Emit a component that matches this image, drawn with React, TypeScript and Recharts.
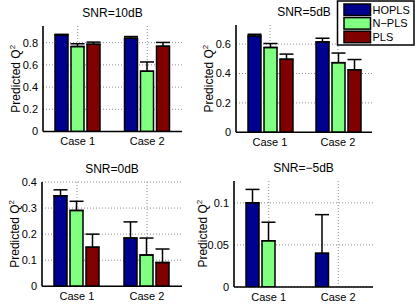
import React from 'react'
import { Bar, BarChart, CartesianGrid, ErrorBar, XAxis, YAxis } from 'recharts'

const categories = ['Case 1', 'Case 2']
const seriesNames = ['HOPLS', 'N-PLS', 'PLS']
const seriesColors = ['#00008F', '#80FF80', '#800000']

// SNR = 10dB
const snr10Hopls = [0.87, 0.84]
const snr10HoplsErr = [0.005, 0.015]
const snr10Npls = [0.765, 0.543]
const snr10NplsErr = [0.025, 0.083]
const snr10Pls = [0.785, 0.767]
const snr10PlsErr = [0.02, 0.035]

// SNR = 5dB
const snr5Hopls = [0.655, 0.615]
const snr5HoplsErr = [0.012, 0.025]
const snr5Npls = [0.577, 0.474]
const snr5NplsErr = [0.027, 0.065]
const snr5Pls = [0.497, 0.425]
const snr5PlsErr = [0.035, 0.07]

// SNR = 0dB
const snr0Hopls = [0.347, 0.185]
const snr0HoplsErr = [0.023, 0.062]
const snr0Npls = [0.291, 0.12]
const snr0NplsErr = [0.035, 0.065]
const snr0Pls = [0.15, 0.091]
const snr0PlsErr = [0.05, 0.052]

// SNR = -5dB
const snrM5Hopls = [0.1, 0.04]
const snrM5HoplsErr = [0.016, 0.046]
const snrM5Npls = [0.055, 0]
const snrM5NplsErr = [0.022, 0.05]
const snrM5Pls = [0, 0]
const snrM5PlsErr = [0, 0]

const ticks10 = [0, 0.2, 0.4, 0.6, 0.8]
const ticks5 = [0, 0.2, 0.4, 0.6]
const ticks0 = [0, 0.1, 0.2, 0.3, 0.4]
const ticksM5 = [0, 0.05, 0.1]

const FONT = '"Liberation Sans", Arial, Helvetica, sans-serif'

interface Box {
  x: number
  y: number
  w: number
  h: number
}

function buildRows(values: number[][], errors: number[][]) {
  return categories.map((name, i) => ({
    name,
    hopls: values[0][i],
    npls: values[1][i],
    pls: values[2][i],
    // one-sided (upper) error bars, like the lower half hidden behind the bar
    hoplsErr: [0, errors[0][i]],
    nplsErr: [0, errors[1][i]],
    plsErr: [0, errors[2][i]]
  }))
}

const panels = [
  {
    title: 'SNR=10dB',
    rows: buildRows([snr10Hopls, snr10Npls, snr10Pls], [snr10HoplsErr, snr10NplsErr, snr10PlsErr]),
    ticks: ticks10,
    top: 0.95,
    box: { x: 43, y: 26, w: 139, h: 105.5 },
    labelX: 19.5
  },
  {
    title: 'SNR=5dB',
    rows: buildRows([snr5Hopls, snr5Npls, snr5Pls], [snr5HoplsErr, snr5NplsErr, snr5PlsErr]),
    ticks: ticks5,
    top: 0.73,
    box: { x: 236, y: 25, w: 136, h: 107.3 },
    labelX: 212.5
  },
  {
    title: 'SNR=0dB',
    rows: buildRows([snr0Hopls, snr0Npls, snr0Pls], [snr0HoplsErr, snr0NplsErr, snr0PlsErr]),
    ticks: ticks0,
    top: 0.4,
    box: { x: 42, y: 181.7, w: 140, h: 104.3 },
    labelX: 18.5
  },
  {
    title: 'SNR=\u22125dB',
    rows: buildRows([snrM5Hopls, snrM5Npls, snrM5Pls], [snrM5HoplsErr, snrM5NplsErr, snrM5PlsErr]),
    ticks: ticksM5,
    top: 0.126,
    box: { x: 234, y: 180.7, w: 139, h: 106 },
    labelX: 207
  }
]

const PAD_L = 45
const PAD_T = 28
const PAD_R = 10
const PAD_B = 22

function Panel({ rows, ticks, top, box }: { rows: any[]; ticks: number[]; top: number; box: Box }) {
  const keys = ['hopls', 'npls', 'pls']
  return (
    <div style={{ position: 'absolute', left: box.x - PAD_L, top: box.y - PAD_T }}>
      <BarChart
        width={box.w + PAD_L + PAD_R}
        height={box.h + PAD_T + PAD_B}
        data={rows}
        margin={{ top: PAD_T, right: PAD_R, bottom: 0, left: 0 }}
        barCategoryGap={12}
        barGap={3}
      >
        <CartesianGrid stroke="#8c8c8c" strokeDasharray="1 2" strokeWidth={1} syncWithTicks />
        <XAxis
          dataKey="name"
          height={PAD_B}
          tickLine={false}
          tickSize={3}
          tickMargin={3}
          axisLine={{ stroke: '#000', strokeWidth: 1.6 }}
          tick={{ fill: '#000', fontSize: 11, fontFamily: FONT }}
        />
        <YAxis
          width={PAD_L}
          domain={[0, top]}
          ticks={ticks}
          allowDataOverflow
          interval={0}
          tickLine={false}
          tickSize={3}
          tickMargin={2}
          axisLine={{ stroke: '#000', strokeWidth: 1.6 }}
          tickFormatter={(v: number) => String(v)}
          tick={{ fill: '#000', fontSize: 11, fontFamily: FONT }}
        />
        {keys.map((key, i) => (
          <Bar
            key={key}
            dataKey={key}
            fill={seriesColors[i]}
            stroke="#000"
            strokeWidth={1.5}
            isAnimationActive={false}
          >
            <ErrorBar
              dataKey={`${key}Err`}
              direction="y"
              width={7}
              stroke="#000"
              strokeWidth={1.5}
              isAnimationActive={false}
            />
          </Bar>
        ))}
      </BarChart>
    </div>
  )
}

export default function App() {
  return (
    <div style={{ position: 'absolute', left: 0, top: 0, width: 415, height: 305, background: '#fff', overflow: 'hidden' }}>
      {panels.map((p) => (
        <Panel key={p.title} rows={p.rows} ticks={p.ticks} top={p.top} box={p.box} />
      ))}
      <svg width={415} height={305} style={{ position: 'absolute', left: 0, top: 0, pointerEvents: 'none' }}>
        {panels.map((p) => (
          <g key={p.title} fontFamily={FONT} fill="#000">
            <text x={p.box.x + p.box.w / 2} y={p.box.y - 9} textAnchor="middle" fontSize={12}>
              {p.title}
            </text>
            <text
              transform={`translate(${p.labelX}, ${p.box.y + p.box.h / 2}) rotate(-90)`}
              textAnchor="middle"
              fontSize={12}
            >
              Predicted Q<tspan dy={-5} fontSize={8}>2</tspan>
            </text>
          </g>
        ))}
        <g fontFamily={FONT}>
          <rect x={337.5} y={1} width={76.5} height={44} fill="#fff" stroke="#000" strokeWidth={1.5} />
          {seriesNames.map((name, i) => (
            <g key={name}>
              <rect x={344} y={4 + i * 13.6} width={26.5} height={11.5} fill={seriesColors[i]} stroke="#000" strokeWidth={1.5} />
              <text x={372.5} y={13.8 + i * 13.6} fontSize={11} fill="#000">
                {name === 'N-PLS' ? 'N\u2212PLS' : name}
              </text>
            </g>
          ))}
        </g>
      </svg>
    </div>
  )
}
